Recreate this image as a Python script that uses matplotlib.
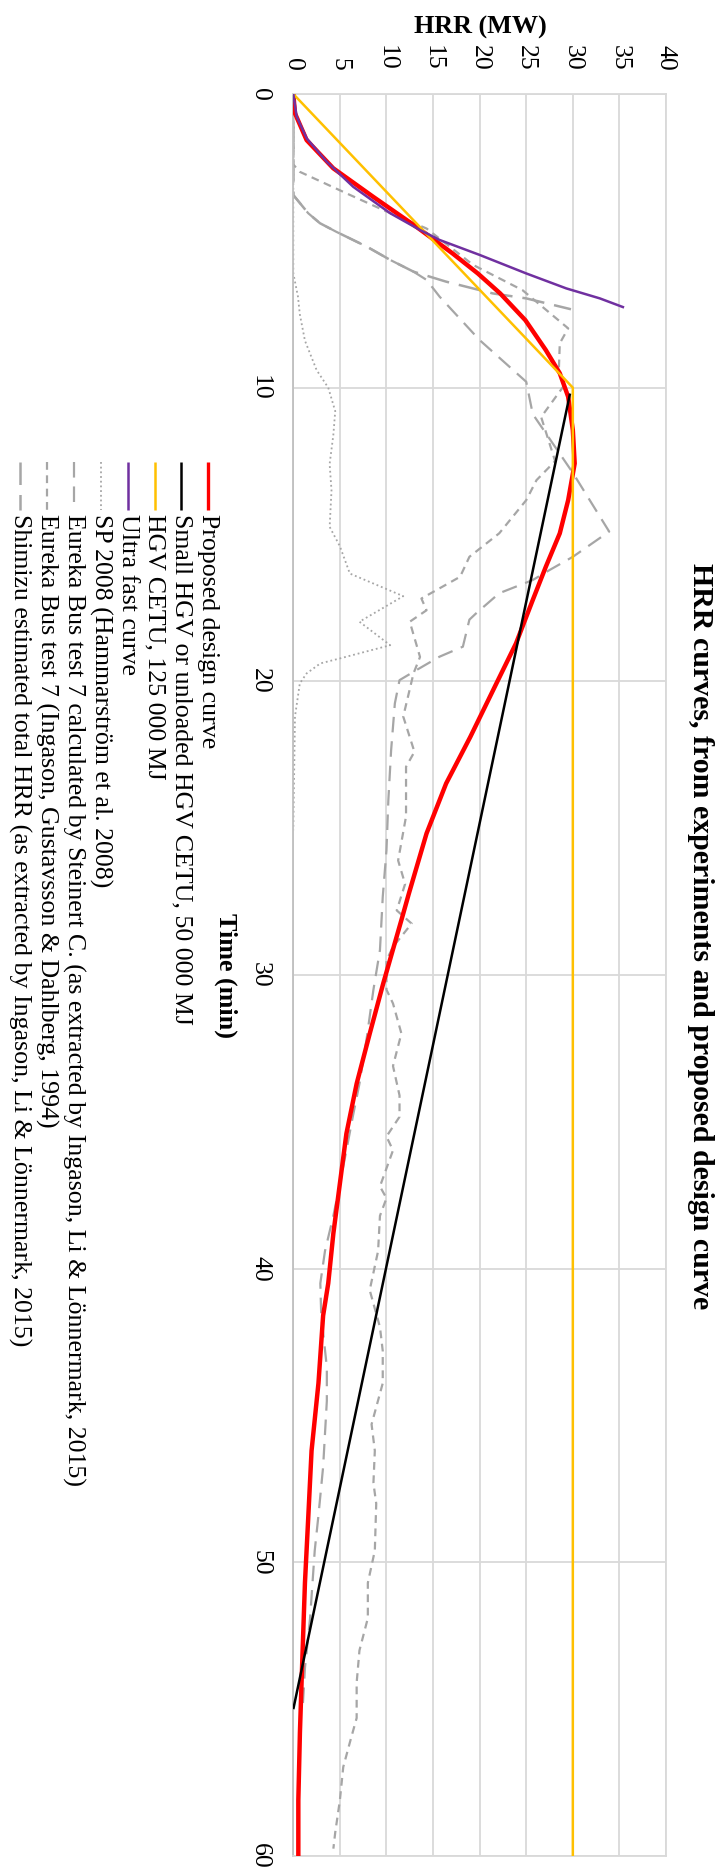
import matplotlib
matplotlib.use("Agg")
import matplotlib.pyplot as plt
from matplotlib.lines import Line2D

plt.rcParams["font.family"] = ["Liberation Serif", "DejaVu Serif"]

# ---------------- data (time in min, HRR in MW) ----------------
proposed_time = [0, 0.66, 1.57, 2.53, 3.5, 4.52, 5.43, 6.11, 6.79, 7.7, 8.72, 9.51,
                 10.31, 11.44, 12.58, 13.83, 14.96, 16.1, 17.23, 18.71, 20.07, 21.89,
                 23.48, 25.18, 27.23, 28.02, 30.29, 32.0, 33.7, 35.4, 37.1, 38.8, 40.5,
                 41.6, 43.9, 46.2, 48.5, 50.7, 53.0, 55.8, 58.1, 60]
proposed_hrr = [0, 0.18, 1.43, 4.29, 8.57, 13.2, 17.1, 19.8, 22.2, 24.9, 27.1, 28.6,
                29.5, 30.0, 30.2, 29.5, 28.6, 27.1, 25.7, 23.9, 21.8, 19.0,
                16.4, 14.3, 12.4, 11.7, 9.65, 8.2, 6.8, 5.7, 5.0, 4.3, 3.75,
                3.2, 2.7, 1.96, 1.6, 1.25, 1.0, 0.71, 0.54, 0.54]

small_hgv_time = [10.2, 55.0]
small_hgv_hrr = [29.7, 0.0]

hgv_cetu_time = [0, 10, 60]
hgv_cetu_hrr = [0, 30, 30]

ultra_time = [0, 0.77, 1.51, 2.3, 3.16, 4.06, 4.63, 4.97, 5.48, 6.11, 6.62, 6.96, 7.27]
ultra_hrr = [0, 0.36, 1.43, 3.57, 6.43, 10.4, 13.6, 15.7, 20.0, 25.0, 29.3, 32.9, 35.5]

sp2008_time = [0, 6.1, 6.9, 7.5, 8.4, 9.4, 10.0, 10.8, 11.6, 12.6, 13.5, 14.74, 15.4,
               16.33, 16.67, 17.1, 17.97, 18.77, 19.22, 19.39, 19.73, 20.07, 21.2, 25.07]
sp2008_hrr = [0, 0, 0.5, 0.7, 1.25, 2.5, 3.75, 4.5, 4.3, 3.9, 4.1, 3.9, 5.0,
              6.07, 8.6, 11.8, 7.1, 10.4, 5.0, 2.9, 1.43, 0.7, 0.18, 0]

eureka_calc_time = [0, 3.44, 4.06, 4.4, 4.69, 5.2, 5.65, 6.05, 6.33, 6.9, 8.38, 9.8,
                    10.9, 12.9, 14.9, 15.76, 16.21, 16.55, 17.0, 17.69, 17.9, 18.82,
                    19.16, 19.62, 19.96, 20.75, 22.34, 24.05, 25.75, 27.34, 29.15, 30.5,
                    32.1, 33.7, 34.8, 35.97, 37.1, 38.2, 39.4, 40.5, 41.6, 43.35, 44.5,
                    46.75, 48.4, 49.6, 51.9, 53.6, 55.0]
eureka_calc_hrr = [0, 0, 1.6, 2.86, 4.6, 7.9, 10.4, 12.9, 14.3, 15.7, 20.0, 25.0,
                   25.7, 30.0, 33.9, 30.0, 27.5, 25.7, 22.1, 19.6, 18.9, 18.2,
                   15.7, 13.2, 11.4, 10.9, 10.5, 10.2, 10.0, 9.6, 9.3, 8.6,
                   7.9, 7.1, 6.4, 5.7, 5.0, 4.3, 3.4, 2.9, 3.0, 3.6, 3.6,
                   3.2, 2.7, 2.3, 1.8, 1.25, 1.0]

eureka_ing_time = [0, 2.4, 2.65, 3.44, 4.0, 4.58, 5.82, 6.68, 7.98, 8.49, 9.4, 9.91,
                   11.0, 12.5, 13.15, 13.83, 14.96, 15.76, 16.44, 17.18, 17.58, 17.97,
                   19.17, 19.73, 21.2, 22.4, 22.91, 24.6, 26.1, 26.9, 27.8, 28.25,
                   29.04, 29.5, 30.5, 30.97, 31.99, 33.1, 34.1, 34.83, 35.5, 35.97,
                   37.2, 37.6, 38.2, 39.4, 40.73, 41.99, 42.8, 43.9, 45.3, 46.2, 47.3,
                   48.0, 49.6, 50.7, 51.9, 53.0, 54.1, 55.3, 56.1, 56.97, 58.1, 59.2,
                   59.75]
eureka_ing_hrr = [0, 0, 0.7, 6.1, 10.0, 14.3, 19.3, 24.6, 29.5, 28.6, 28.5, 29.1,
                  26.6, 28.1, 26.1, 25.0, 22.1, 18.9, 17.9, 13.75, 14.3, 12.5,
                  13.6, 12.9, 11.8, 13.0, 12.1, 12.1, 11.25, 12.0, 11.1, 12.7,
                  10.7, 10.0, 10.0, 10.7, 11.6, 10.7, 11.4, 11.4, 10.0, 10.7,
                  9.3, 10.0, 9.3, 9.1, 8.2, 9.3, 9.6, 9.6, 8.4, 8.75, 8.6,
                  8.9, 8.75, 8.0, 8.0, 7.1, 6.8, 6.8, 6.1, 5.36, 5.0, 4.5,
                  4.3]

shimizu_time = [0, 3.44, 4.06, 4.4, 4.69, 5.2, 5.65, 6.05, 6.39, 6.79, 6.96, 7.33]
shimizu_hrr = [0, 0, 1.6, 2.86, 4.6, 7.9, 10.4, 12.9, 16.4, 21.4, 25.0, 29.8]

time_ticks = [0, 10, 20, 30, 40, 50, 60]
hrr_ticks = [0, 5, 10, 15, 20, 25, 30, 35, 40]

legend_labels = [
    "Proposed design curve",
    "Small HGV or unloaded HGV CETU, 50 000 MJ",
    "HGV CETU, 125 000 MJ",
    "Ultra fast curve",
    "SP 2008 (Hammarström et al. 2008)",
    "Eureka Bus test 7 calculated by Steinert C. (as extracted by Ingason, Li & Lönnermark, 2015)",
    "Eureka Bus test 7 (Ingason, Gustavsson & Dahlberg, 1994)",
    "Shimizu estimated total HRR (as extracted by Ingason, Li & Lönnermark, 2015)",
]

# ---------------- styles ----------------
GRAY = "#A6A6A6"
styles = [
    dict(color="#FF0000", lw=3.2, ls="-", zorder=3),
    dict(color="#000000", lw=1.8, ls="-", zorder=4),
    dict(color="#FFC000", lw=1.8, ls="-", zorder=3.5),
    dict(color="#7030A0", lw=1.8, ls="-", zorder=5),
    dict(color=GRAY, lw=1.3, ls=(0, (1, 1.6)), zorder=2),
    dict(color=GRAY, lw=1.6, ls=(0, (7, 4)), zorder=2),
    dict(color=GRAY, lw=1.6, ls=(0, (3.5, 2.5)), zorder=2),
    dict(color=GRAY, lw=1.8, ls=(0, (9, 4)), zorder=2),
]
series = [
    (proposed_time, proposed_hrr),
    (small_hgv_time, small_hgv_hrr),
    (hgv_cetu_time, hgv_cetu_hrr),
    (ultra_time, ultra_hrr),
    (sp2008_time, sp2008_hrr),
    (eureka_calc_time, eureka_calc_hrr),
    (eureka_ing_time, eureka_ing_hrr),
    (shimizu_time, shimizu_hrr),
]

W, H = 725, 1876
fig = plt.figure(figsize=(W / 100, H / 100), dpi=100)


def fx(px):
    return px / W


def fy(py):
    return 1 - py / H


ax_left, ax_right, ax_top, ax_bottom = 293.3, 666.0, 94.0, 1856.0
ax = fig.add_axes([fx(ax_left), fy(ax_bottom), (ax_right - ax_left) / W,
                   (ax_bottom - ax_top) / H])

# chart is laid out sideways: HRR runs left to right, time runs downwards
for (t, q), st in zip(series, styles):
    ax.plot(q, t, solid_capstyle="butt", dash_capstyle="butt",
            solid_joinstyle="round", **st)

ax.set_xlim(0, 40)
ax.set_ylim(60, 0)
ax.set_xticks(hrr_ticks)
ax.set_yticks(time_ticks)
ax.set_xticklabels([str(v) for v in hrr_ticks])
ax.set_yticklabels([str(v) for v in time_ticks])
ax.grid(True, color="#D9D9D9", lw=1.3, zorder=0)
ax.set_axisbelow(True)
for sp in ax.spines.values():
    sp.set_color("#D9D9D9")
    sp.set_linewidth(1.3)
ax.spines["left"].set_color("#BFBFBF")

ax.xaxis.tick_top()
ax.tick_params(axis="x", length=0, pad=17, labelsize=18.5)
ax.tick_params(axis="y", length=0, pad=16, labelsize=18.5)
for lab in ax.get_xticklabels():
    lab.set_rotation(-90)
    lab.set_va("bottom")
    lab.set_ha("center")
for lab in ax.get_yticklabels():
    lab.set_rotation(-90)
    lab.set_va("center")
    lab.set_ha("right")

# axis titles and chart title
fig.text(fx(480), fy(27), "HRR (MW)", fontsize=18.8, fontweight="bold",
         ha="center", va="center")
fig.text(fx(226), fy(975), "Time (min)", fontsize=18.8, fontweight="bold",
         rotation=-90, ha="center", va="center")
fig.text(fx(700), fy(936), "HRR curves, from experiments and proposed design curve",
         fontsize=21.5, fontweight="bold", rotation=-90, ha="center", va="center")

# legend, stacked right to left
for i, (label, st) in enumerate(zip(legend_labels, styles)):
    x = 208.3 - 26.9 * i
    fig.add_artist(Line2D([fx(x), fx(x)], [fy(462), fy(510)], transform=fig.transFigure,
                          color=st["color"], lw=min(st["lw"], 2.4), ls=st["ls"],
                          solid_capstyle="butt", dash_capstyle="butt"))
    fig.text(fx(x), fy(514), label, fontsize=18.6, rotation=-90,
             ha="center", va="top")

fig.savefig("out.png", dpi=100, facecolor="white")
